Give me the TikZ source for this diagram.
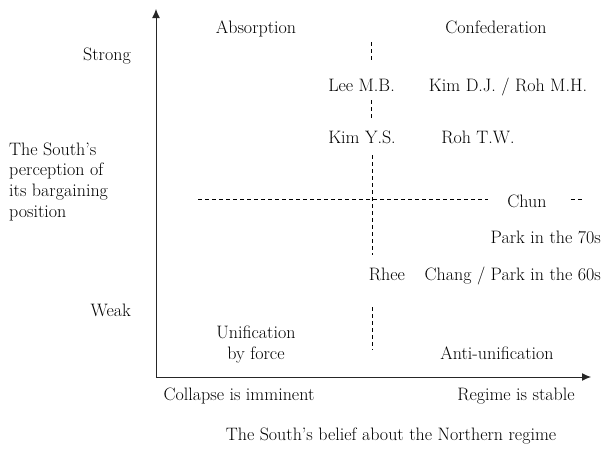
\documentclass[tikz,border=0pt]{standalone}
\usetikzlibrary{arrows.meta,positioning}

\begin{document}
\begin{tikzpicture}[x=1pt,y=-1pt,
  lbl/.style={inner sep=0pt,anchor=base,font=\fontsize{18}{20.7}\selectfont},
  blk/.style={lbl,align=center,anchor=north},
  axis/.style={line width=1pt,draw=black!85,-{Latex[length=9pt,width=8pt]}},
  divide/.style={line width=0.6pt,dash pattern=on 4pt off 3pt}]
\useasboundingbox (0,0) rectangle (604,450);
% axes
\coordinate (o) at (156,377);
\coordinate (ytop) at (156,9);
\coordinate (xend) at (591,377);
\draw[axis] (o) -- (ytop);
\draw[axis] (o) -- (xend);
% quadrant names
\node[lbl] (absorb) at (256,33) {Absorption};
\node[lbl] (confed) at (496,33) {Confederation};
\node[blk] (force) at (256,325.5) {Unification\\by force};
\node[lbl] (anti) at (497,359) {Anti-unification};
% y axis
\node[lbl,anchor=base east] (strong) at (131,60) {Strong};
\node[lbl,anchor=base east] (weak) at (131,316) {Weak};
\node[blk,align=left,anchor=north west] (ylab) at (9,142.5)
  {The South's\\perception of\\its bargaining\\position};
% x axis
\node[lbl] (collapse) at (239,400) {Collapse is imminent};
\node[lbl] (stable) at (516,400) {Regime is stable};
\node[lbl] (xlab) at (391,440) {The South's belief about the Northern regime};
% presidents
\node[lbl] (lee) at (361.5,91) {Lee M.B.};
\node[lbl] (kimdj) at (508,91) {Kim D.J. / Roh M.H.};
\node[lbl] (kimys) at (362,143) {Kim Y.S.};
\node[lbl] (rohtw) at (478,143) {Roh T.W.};
\node[lbl] (chun) at (527,207) {Chun};
\node[lbl,anchor=base east] (park70) at (601,243) {Park in the 70s};
\node[lbl] (rhee) at (387,280) {Rhee};
\node[lbl,anchor=base east] (chang) at (601,280) {Chang / Park in the 60s};
% dividing lines
\coordinate (v1) at (371,42);  \coordinate (v2) at (371,62);
\coordinate (v3) at (371,100); \coordinate (v4) at (371,119);
\coordinate (v5) at (372,155); \coordinate (v6) at (372,255);
\coordinate (v7) at (372,307); \coordinate (v8) at (372,350);
\coordinate (h1) at (198,199); \coordinate (h2) at (584,199);
\path[divide]
  (v1) edge (v2)
  (v3) edge (v4)
  (v5) edge (v6)
  (v7) edge (v8)
  % across
  (h1) edge ([xshift=-19pt]chun.west |- h1)
  ([xshift=24pt]chun.east |- h1) edge (h2);
\end{tikzpicture}
\end{document}
